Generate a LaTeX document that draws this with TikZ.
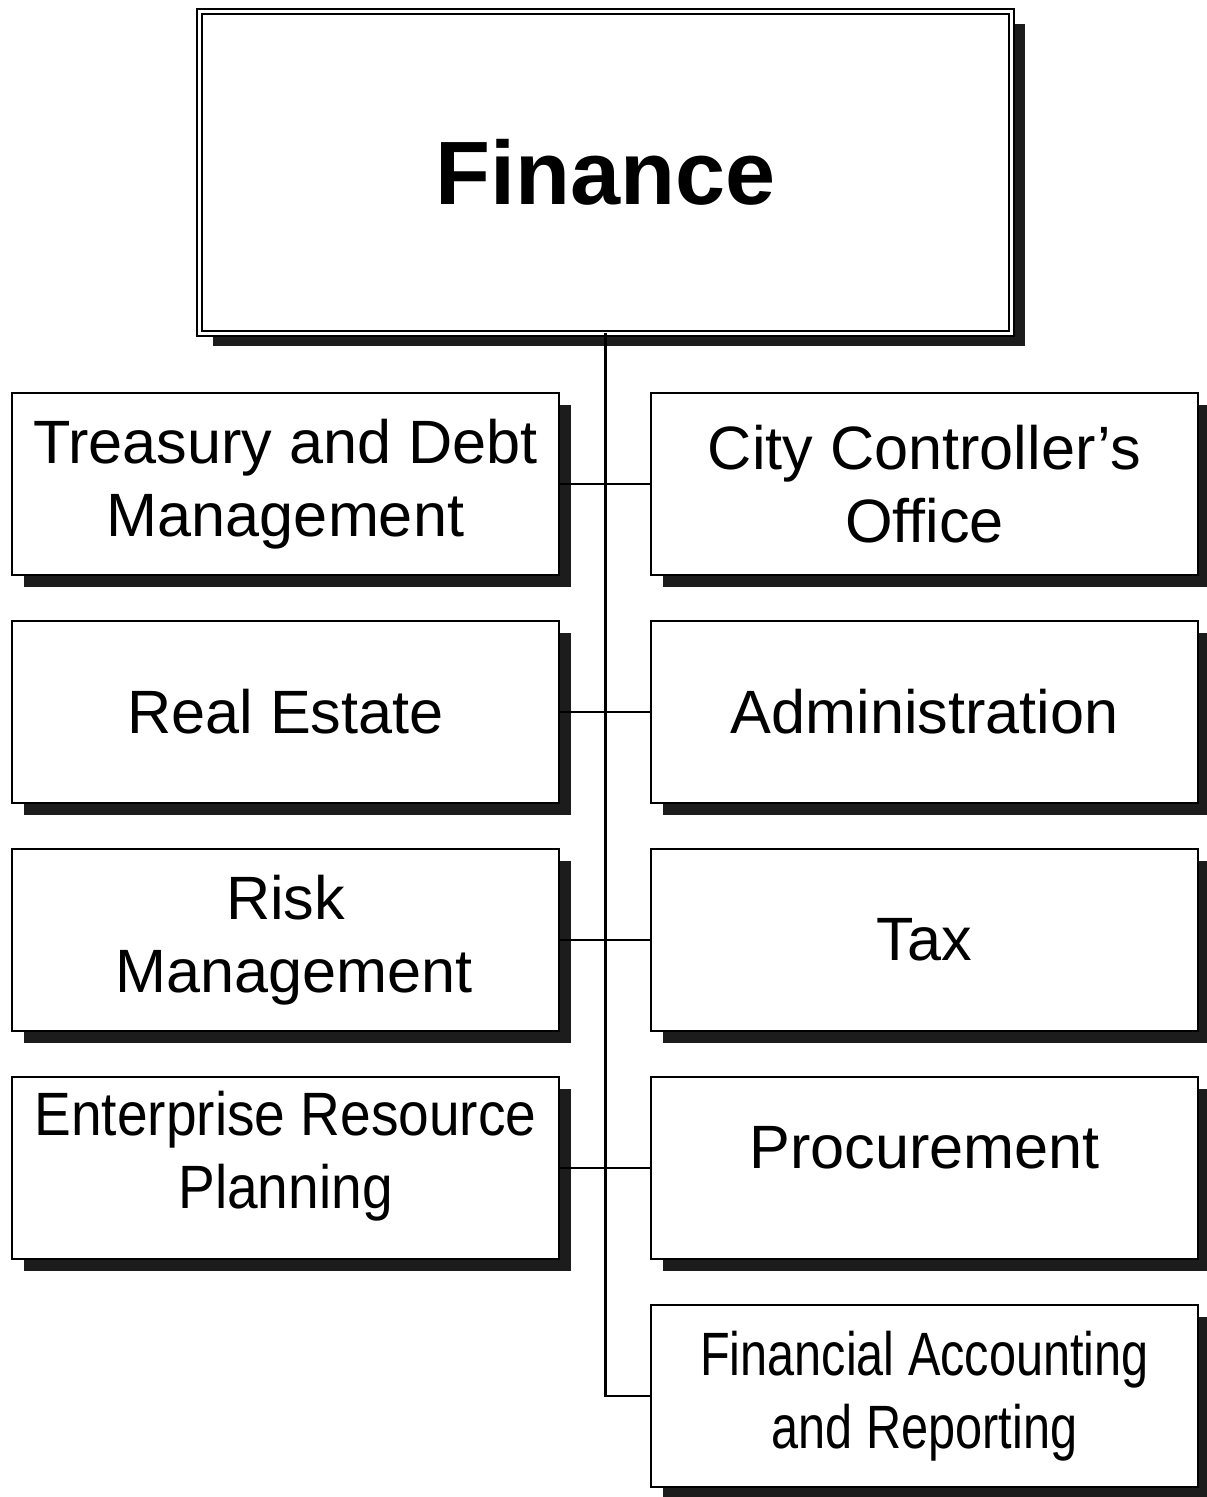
\documentclass[tikz,border=0pt]{standalone}
\usepackage{fontspec}
\setmainfont{Liberation Sans}
\newfontfamily\narrowfont[FakeStretch=0.795]{Liberation Sans}
\newfontfamily\semifont[FakeStretch=0.9]{Liberation Sans}
\usetikzlibrary{shadows}
\definecolor{shadowc}{HTML}{1C1C1C}
\tikzset{
  unitbox/.style={draw=black, fill=white, line width=1pt, inner sep=0pt, outer sep=0pt,
    minimum width=273.5pt, minimum height=91pt, align=center,
    font=\fontsize{30.6}{36.5}\selectfont,
    drop shadow={shadow xshift=6pt, shadow yshift=-6pt, fill=shadowc, opacity=1, draw=none}},
  topbox/.style={draw=black, double=white, double distance=1.6pt, line width=1pt, fill=white,
    inner sep=0pt, outer sep=0pt, minimum width=406pt, minimum height=161pt,
    font=\fontsize{45}{54}\selectfont\bfseries,
    drop shadow={shadow xshift=6.5pt, shadow yshift=-6.5pt, fill=shadowc, opacity=1, draw=none}},
  link/.style={draw=black, line width=1.1pt}
}
\begin{document}
\begin{tikzpicture}[x=0.5pt, y=-0.5pt]
\useasboundingbox (0,0) rectangle (1206,1497);
\node[topbox] (top) at (605.5,172.5) {Finance};
\node[unitbox] (L1) at (285.5,484) {Treasury and Debt\\Management};
\node[unitbox] (L2) at (285.5,712) {Real Estate};
\node[unitbox] (L3) at (285.5,940) {Risk\\\hspace*{8.5pt}Management};
\node[unitbox] (L4) at (285.5,1168) {\raisebox{5.5pt}[\height][\depth]{\begin{tabular}{@{}c@{}}\semifont Enterprise Resource\\\semifont Planning\end{tabular}}};
\node[unitbox] (R1) at (924.5,484) {City Controller’s\\Office};
\node[unitbox] (R2) at (924.5,712) {Administration};
\node[unitbox] (R3) at (924.5,940) {Tax};
\node[unitbox] (R4) at (924.5,1168) {\raisebox{10pt}[\height][\depth]{Procurement}};
\node[unitbox] (R5) at (924.5,1396) {\narrowfont Financial Accounting\\\narrowfont and Reporting};
\draw[link] (top.south) |- (R5.west);
\draw[link] (L1.east) -- (R1.west);
\draw[link] (L2.east) -- (R2.west);
\draw[link] (L3.east) -- (R3.west);
\draw[link] (L4.east) -- (R4.west);
\end{tikzpicture}
\end{document}
